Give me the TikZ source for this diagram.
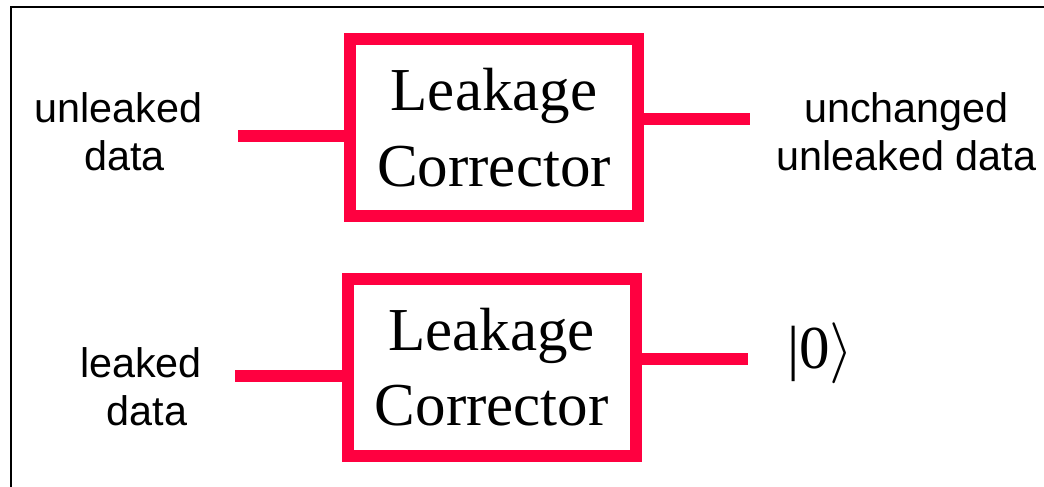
\documentclass[tikz,border=0pt]{standalone}
\usepackage{fix-cm}
\usepackage{fontspec}
\setmainfont{Liberation Serif}
\newfontfamily\arialfont{Liberation Sans}
\usepackage{xcolor}
\usepackage{tikz}

\definecolor{corrred}{RGB}{255,0,64}

\tikzset{
  corrector/.style={draw=corrred, line width=8.75pt, minimum width=216pt,
    minimum height=132.75pt, inner sep=0pt, align=center,
    font=\fontsize{45.75pt}{56.5pt}\selectfont},
  wire/.style={draw=corrred, line width=8.75pt},
  sidetext/.style={inner sep=0pt, align=center,
    font=\arialfont\fontsize{31pt}{36pt}\selectfont}
}

\begin{document}
\begin{tikzpicture}[x=0.75pt, y=-0.75pt]

\useasboundingbox (0,0) rectangle (1044,486);
\clip (0,0) rectangle (1044,486);

% frame
\draw[line width=1.5pt] (11.3,7) rectangle (1100,540);

% correctors
\node[corrector] (box1) at (494,127.5) {Leakage\\Corrector};
\node[corrector] (box2) at (491.7,367.4) {Leakage\\Corrector};

\coordinate (in1) at (238,136);
\coordinate (out1) at (750,119);
\coordinate (in2) at (235,376);
\coordinate (out2) at (748,359);

\draw[wire] (in1) -- (in1 -| box1.west);
\draw[wire] (box1.east |- out1) -- (out1);
\draw[wire] (in2) -- (in2 -| box2.west);
\draw[wire] (box2.east |- out2) -- (out2);

% labels
\node[sidetext] (unleaked) at (124.3,132) {unleaked\hspace*{0.278em}\\data};
\node[sidetext] (unchanged) at (906.5,132) {unchanged\\unleaked data};
\node[sidetext] (leaked) at (146.8,387) {leaked\hspace*{0.278em}\\data};
\node[inner sep=0pt, anchor=base west, font=\fontsize{45.75pt}{56.5pt}\selectfont]
  (ket) at (787,368) {|0$\rangle$};

\end{tikzpicture}
\end{document}
